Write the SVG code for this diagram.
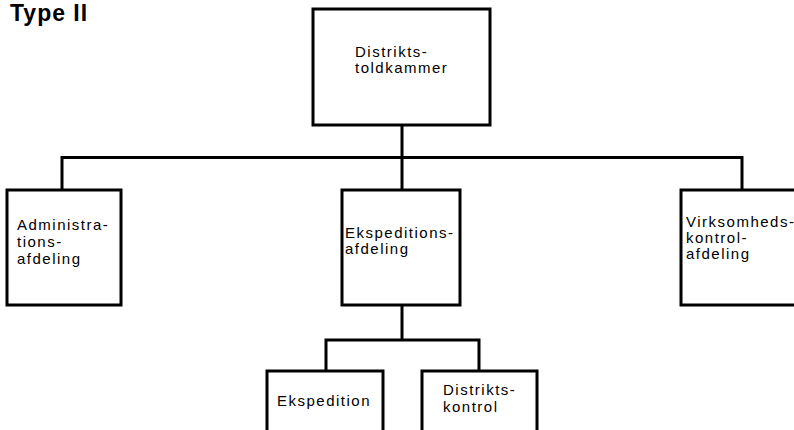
<svg xmlns="http://www.w3.org/2000/svg" width="794" height="430" viewBox="0 0 794 430">
<style>
.box{fill:#fff;stroke:#000;stroke-width:3}
.ln{fill:none;stroke:#000;stroke-width:3}
.t{font-family:"Liberation Sans",Arial,sans-serif;font-size:15px;letter-spacing:1.5px;fill:#000}
.title{font-family:"Liberation Sans",Arial,sans-serif;font-size:23px;font-weight:bold;letter-spacing:1px;fill:#000}
</style>
<rect width="794" height="430" fill="#fff"/>
<text class="title" x="10" y="21">Type II</text>
<g id="connectors">
<path class="ln" d="M402 125 V190"/>
<path class="ln" d="M62 190 V157.5 H742 V190"/>
<path class="ln" d="M402 305 V340"/>
<path class="ln" d="M326 371 V340 H479 V371"/>
</g>
<g id="n-distriktstoldkammer">
<rect class="box" x="313" y="9" width="177" height="116"/>
<text class="t" x="355" y="57">Distrikts-</text>
<text class="t" x="355" y="73">toldkammer</text>
</g>
<g id="n-administration">
<rect class="box" x="7" y="190" width="114" height="115"/>
<text class="t" x="17" y="230">Administra-</text>
<text class="t" x="17" y="247">tions-</text>
<text class="t" x="17" y="264">afdeling</text>
</g>
<g id="n-ekspeditionsafdeling">
<rect class="box" x="342" y="190" width="118" height="115"/>
<text class="t" x="345" y="238">Ekspeditions-</text>
<text class="t" x="345" y="254">afdeling</text>
</g>
<g id="n-virksomhedskontrol">
<rect class="box" x="681" y="190" width="120" height="115"/>
<text class="t" x="686" y="227">Virksomheds-</text>
<text class="t" x="686" y="243">kontrol-</text>
<text class="t" x="686" y="259">afdeling</text>
</g>
<g id="n-ekspedition">
<rect class="box" x="267" y="371" width="116" height="64"/>
<text class="t" x="277" y="406">Ekspedition</text>
</g>
<g id="n-distriktskontrol">
<rect class="box" x="422" y="371" width="115" height="64"/>
<text class="t" x="443" y="395">Distrikts-</text>
<text class="t" x="443" y="412">kontrol</text>
</g>
</svg>
